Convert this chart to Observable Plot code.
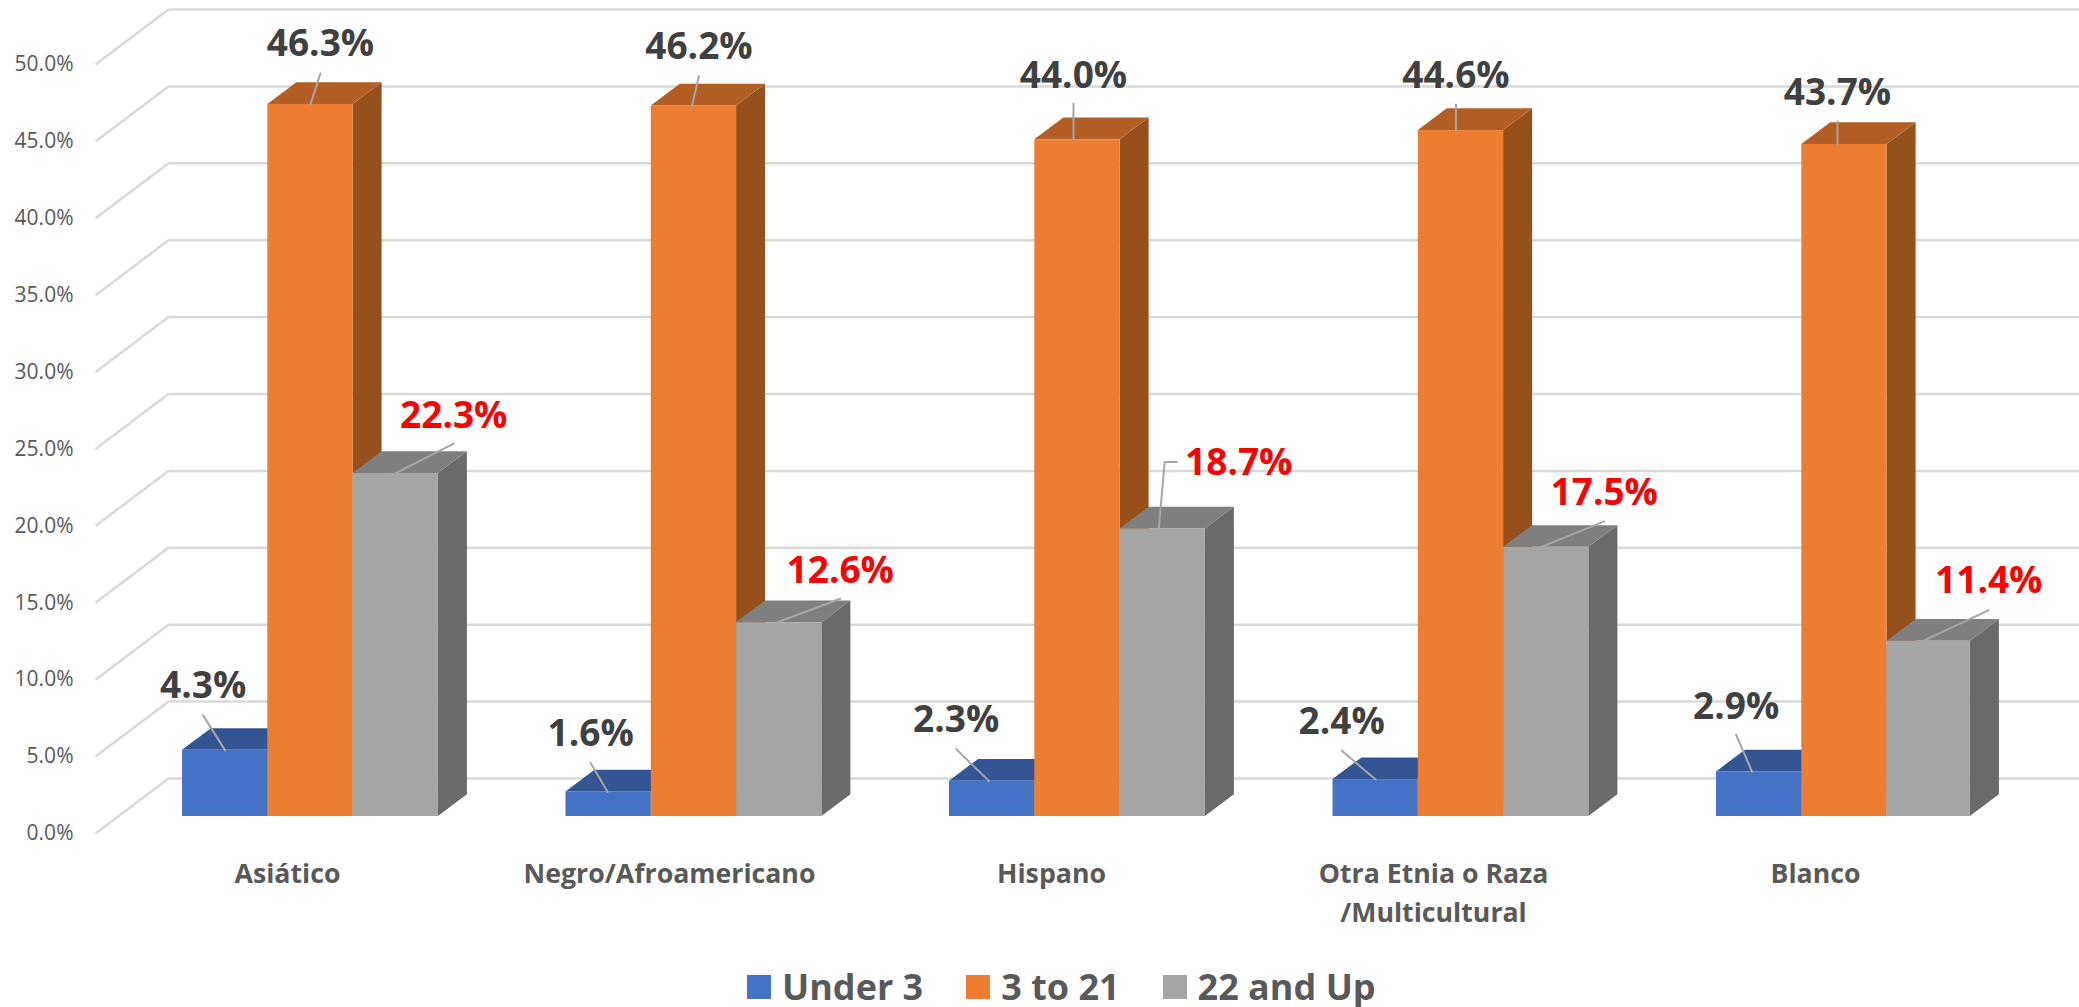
<!DOCTYPE html>
<html lang="es">
<head>
<meta charset="utf-8">
<title>Edad por etnia</title>
<script src="https://cdn.jsdelivr.net/npm/d3@7"></script>
<script src="https://cdn.jsdelivr.net/npm/@observablehq/plot@0.6"></script>
<style>
html,body{margin:0;padding:0;background:#fff;height:1007px}
html{overflow:hidden}
#legend{display:flex;align-items:center;height:24px;margin:15px 0 0 747px;font:700 36px "Open Sans",sans-serif;color:#595959;line-height:24px}
#legend i{display:block;width:24px;height:24px;margin-right:11px}
#legend span{display:block;margin-right:43px;white-space:nowrap}
svg{display:block}
</style>
</head>
<body>
<div id="chart"></div>
<div id="legend"></div>
<script>
// ---- values ----
const categories = ["Asiático", "Negro/Afroamericano", "Hispano", "Otra Etnia o Raza\n/Multicultural", "Blanco"];
const seriesNames = ["Under 3", "3 to 21", "22 and Up"];
const under3 = [4.3, 1.6, 2.3, 2.4, 2.9];
const age3to21 = [46.3, 46.2, 44.0, 44.6, 43.7];
const age22up = [22.3, 12.6, 18.7, 17.5, 11.4];
const yTicks = [0, 5, 10, 15, 20, 25, 30, 35, 40, 45, 50];

// ---- styling ----
const frontColors = ["#4472C4", "#ED7D31", "#A5A5A5"];
const topColors = ["#335593", "#B25E25", "#7F7F7F"];
const sideColors = ["#2A4680", "#96501C", "#6A6A6A"];
const labelColors = ["#404040", "#404040", "#FF0000"];
const font = '"Open Sans", sans-serif';

// ---- layout of the pseudo-3D view, in scale units ----
const stepPx = 383.5, pctPx = 15.38;            // pixels per category, pixels per percentage point
const xPx = p => p / stepPx, yPx = p => -p / pctPx; // pixel offset to scale units
const barStart = xPx(14), barWidth = xPx(85.3);
const depthX = xPx(29), depthY = yPx(-21.7);
const wallX = xPx(-73), wallFront = yPx(17), wallBack = yPx(-38);
const gridEnd = xPx(2079 - 168);
const categoryCentre = xPx(119), categoryStep = 1 - xPx(1.5);
const lastBarTrim = xPx(2); // the right-most bar is drawn a little narrower in the reference

// leader lines and labels: offsets in pixels from the centre of each bar's top front edge
const footDx = [[0, -1, -3, 0, -7], [0, -2, -4, -5, -7], [-1, -3, -4, -6, -7]];
const tipDx = [[-22, -18, -36, -34, -23], [10, 5, -4, -5, -7], [58, 61, 14, 58, 59]];
const tipDy = [[-35, -29, -32, -29, -37], [-31, -30, -36, -26, -23], [-30, -24, -67, -26, -31]];
const labelDx = [[0, 0, 0, 0, 0], [0, 0, 0, 0, 0], [0, 0, 62, 0, 0]];
const labelDy = [[-29, -29, -29, -28, -28], [-29, -29, -28, -28, -28], [-27, -28, 1, -28, -29]];
const elbows = { "2,2": [2, -67] }; // series,category of the one bent leader

const values = [under3, age3to21, age22up];
const marks = [];

// floor-to-wall and back-wall gridlines
marks.push(
  Plot.link(yTicks, {x1: wallX, y1: d => d + wallFront, x2: 0, y2: d => d + wallBack, stroke: "#D9D9D9", strokeWidth: 2.5}),
  Plot.link(yTicks, {x1: 0, y1: d => d + wallBack, x2: gridEnd, y2: d => d + wallBack, stroke: "#D9D9D9", strokeWidth: 2.5}),
  Plot.axisY({anchor: "left", ticks: yTicks, tickSize: 0, tickPadding: 95, dy: 17,
    tickFormat: d => d.toFixed(1) + "%", fontSize: 21, fontFamily: font, fill: "#595959", label: null})
);

const leaders = [], labels = [];
seriesNames.forEach((name, s) => {
  const tops = [], sides = [], fronts = [];
  values[s].forEach((v, g) => {
    const x0 = g + barStart + s * barWidth;
    const x1 = x0 + barWidth - (s === 2 && g === 4 ? lastBarTrim : 0);
    fronts.push({x1: x0, x2: x1, y: v});
    tops.push({z: g, x1: x0, x2: x1, y: v}, {z: g, x1: x0 + depthX, x2: x1 + depthX, y: v + depthY});
    sides.push({z: g, x: x1, y1: 0, y2: v}, {z: g, x: x1 + depthX, y1: depthY, y2: v + depthY});
    // leader and data label for this bar
    const cx = x0 + barWidth / 2;
    const tipX = cx + xPx(tipDx[s][g]), tipY = v + yPx(tipDy[s][g]);
    const id = s + "," + g;
    leaders.push({id, x: cx + xPx(footDx[s][g]), y: v});
    if (elbows[id]) leaders.push({id, x: cx + xPx(elbows[id][0]), y: v + yPx(elbows[id][1])});
    leaders.push({id, x: tipX, y: tipY});
    labels.push({x: tipX + xPx(labelDx[s][g]), y: tipY + yPx(labelDy[s][g]), text: v.toFixed(1) + "%", fill: labelColors[s]});
  });
  marks.push(
    Plot.area(sides, {x1: "x", x2: "x", y1: "y1", y2: "y2", z: "z", fill: sideColors[s]}),
    Plot.area(tops, {x1: "x1", x2: "x2", y1: "y", y2: "y", z: "z", fill: topColors[s]}),
    Plot.rect(fronts, {x1: "x1", x2: "x2", y1: 0, y2: "y", fill: frontColors[s]})
  );
});

marks.push(
  Plot.line(leaders, {x: "x", y: "y", z: "id", stroke: "#A6A6A6", strokeWidth: 2}),
  Plot.text(labels, {x: "x", y: "y", text: "text", fill: "fill", fontSize: 37, fontWeight: 700, fontFamily: font}),
  Plot.text(categories, {x: (d, i) => i * categoryStep + categoryCentre, y: yPx(38.5), text: d => d, lineAnchor: "top",
    lineHeight: 1.46, fontSize: 26.7, fontWeight: 700, fontFamily: font, fill: "#595959"})
);

const chart = Plot.plot({
  width: 2079, height: 960,
  marginLeft: 168, marginRight: 0, marginTop: 0, marginBottom: 0,
  x: {domain: [0, 5], range: [168, 168 + 5 * stepPx], axis: null},
  y: {domain: [0, 50], range: [816, 816 - 50 * pctPx], axis: null},
  style: {background: "#fff"},
  marks
});
document.getElementById("chart").append(chart);

const legend = document.getElementById("legend");
seriesNames.forEach((name, s) => {
  const i = document.createElement("i"); i.style.background = frontColors[s];
  const t = document.createElement("span"); t.textContent = name;
  legend.append(i, t);
});
</script>
</body>
</html>
